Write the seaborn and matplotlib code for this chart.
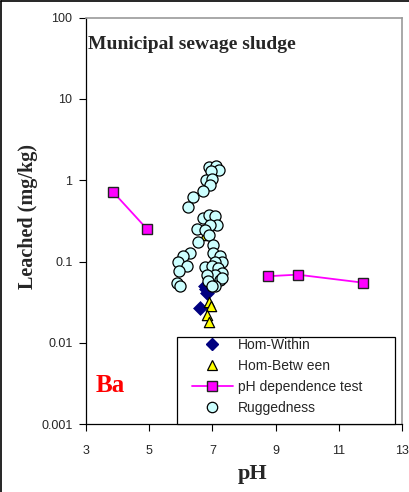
import matplotlib
matplotlib.use("Agg")
import matplotlib.pyplot as plt
import matplotlib.patches as patches
from matplotlib.lines import Line2D
import seaborn as sns
import pandas as pd

# (pH, leached mg/kg)
within_ph = [6.76, 6.84, 6.80, 6.60]
within_val = [0.050, 0.041, 0.046, 0.027]

between_ph = [6.76, 6.90, 6.95, 6.84, 6.89]
between_val = [0.21, 0.032, 0.028, 0.022, 0.018]

# the pH dependence test is drawn as two separate runs (acid side / alkaline side)
phdep_ph = [3.86, 4.91, 8.76, 9.70, 11.77]
phdep_val = [0.71, 0.255, 0.066, 0.069, 0.055]
phdep_run = [1, 1, 2, 2, 2]

rugged_ph = [6.90, 7.11, 7.22, 6.95, 6.80, 6.98, 6.92, 6.71, 6.39, 6.23,
             6.69, 6.90, 7.08, 7.13, 6.92, 6.50, 6.76, 6.90, 6.55, 7.01,
             7.03, 7.24, 7.29, 7.08, 6.29, 6.08, 5.92, 6.18, 5.95, 6.76,
             6.98, 7.19, 7.29, 7.08, 6.82, 6.87, 7.24, 7.29, 5.87, 5.97,
             7.08, 6.98]
rugged_val = [1.46, 1.49, 1.33, 1.31, 1.00, 1.03, 0.87, 0.74, 0.63, 0.47,
              0.34, 0.37, 0.36, 0.28, 0.28, 0.25, 0.245, 0.21, 0.176, 0.16,
              0.127, 0.116, 0.100, 0.100, 0.127, 0.116, 0.100, 0.087, 0.076, 0.086,
              0.087, 0.083, 0.072, 0.069, 0.069, 0.057, 0.060, 0.063, 0.055, 0.050,
              0.050, 0.050]

yticks = [0.001, 0.01, 0.1, 1, 10, 100]
ytick_labels = ["0.001", "0.01", "0.1", "1", "10", "100"]
xticks = [3, 5, 7, 9, 11, 13]
legend_labels = ["Hom-Within", "Hom-Betw een", "pH dependence test", "Ruggedness"]

sns.set_style("white")
plt.rcParams["font.family"] = ["Liberation Sans", "DejaVu Sans"]

fig = plt.figure(figsize=(4.09, 4.92), dpi=100)
ax = fig.add_axes([0.211, 0.138, 0.771, 0.826])

within = pd.DataFrame({"pH": within_ph, "val": within_val})
between = pd.DataFrame({"pH": between_ph, "val": between_val})
phdep = pd.DataFrame({"pH": phdep_ph, "val": phdep_val, "run": phdep_run})
rugged = pd.DataFrame({"pH": rugged_ph, "val": rugged_val})

navy, yellow, magenta, cyan = "#000080", "#FFFF00", "#FF00FF", "#CCFFFF"

sns.scatterplot(data=within, x="pH", y="val", marker="D", s=50, color=navy,
                edgecolor=navy, linewidth=0.5, ax=ax, zorder=3)
sns.scatterplot(data=between, x="pH", y="val", marker="^", s=55, color=yellow,
                edgecolor="black", linewidth=0.9, ax=ax, zorder=4)
sns.lineplot(data=phdep, x="pH", y="val", units="run", estimator=None, color=magenta,
             linewidth=1.3, marker="s", markersize=7.5, markerfacecolor=magenta,
             markeredgecolor="#222222", markeredgewidth=1.0, ax=ax, zorder=5,
             sort=False, legend=False)
sns.scatterplot(data=rugged, x="pH", y="val", marker="o", s=64, color=cyan,
                edgecolor="black", linewidth=0.9, ax=ax, zorder=6)

ax.set_yscale("log")
ax.set_ylim(0.001, 100)
ax.set_xlim(3, 13)
ax.set_yticks(yticks)
ax.set_yticklabels(ytick_labels)
ax.set_xticks(xticks)
ax.minorticks_off()
ax.tick_params(axis="both", which="major", direction="out", length=5, width=0.8,
               labelsize=9, color="black", left=True, bottom=True)
ax.tick_params(axis="y", pad=5)
ax.tick_params(axis="x", pad=10)

for side in ["left", "bottom"]:
    ax.spines[side].set_color("black")
    ax.spines[side].set_linewidth(0.9)
for side in ["top", "right"]:
    ax.spines[side].set_color("#999999")
    ax.spines[side].set_linewidth(1.2)

serif = ["Liberation Serif", "DejaVu Serif"]
ax.set_xlabel("pH", fontsize=16, fontweight="bold", family=serif)
ax.set_ylabel("Leached (mg/kg)", fontsize=14.5, fontweight="bold", family=serif)
ax.xaxis.set_label_coords(0.527, -0.098)
ax.yaxis.set_label_coords(-0.153, 0.51)

ax.text(0.005, 0.935, "Municipal sewage sludge", transform=ax.transAxes,
        fontsize=14, fontweight="bold", family=serif, va="center", ha="left")
ax.text(0.03, 0.095, "Ba", transform=ax.transAxes, color="#FF0000",
        fontsize=18, fontweight="bold", family=serif, va="center", ha="left")

# legend box drawn separately so it can match the original's size
ax.add_patch(patches.Rectangle((0.2876, 0.0), 0.6914, 0.214, transform=ax.transAxes,
                               facecolor="white", edgecolor="black", linewidth=0.9,
                               zorder=9, clip_on=False))
handles = [
    Line2D([], [], linestyle="none", marker="D", markersize=6.5, color=navy),
    Line2D([], [], linestyle="none", marker="^", markersize=7.5, markerfacecolor=yellow,
           markeredgecolor="black", markeredgewidth=0.9),
    Line2D([], [], color=magenta, linewidth=1.3, marker="s", markersize=7.5,
           markerfacecolor=magenta, markeredgecolor="#222222", markeredgewidth=1.0),
    Line2D([], [], linestyle="none", marker="o", markersize=7.5, markerfacecolor=cyan,
           markeredgecolor="black", markeredgewidth=0.9),
]
leg = ax.legend(handles, legend_labels, loc="upper left", bbox_to_anchor=(0.334, 0.212),
                fontsize=10, frameon=False, borderaxespad=0, borderpad=0,
                handlelength=3.0, labelspacing=0.5, handletextpad=0.35)
leg.set_zorder(10)

# outline of the chart area (left and top edges show in the original)
fig.add_artist(Line2D([0.002, 0.002], [0.0, 0.998], transform=fig.transFigure,
                      color="black", linewidth=1.2))
fig.add_artist(Line2D([0.002, 1.0], [0.998, 0.998], transform=fig.transFigure,
                      color="black", linewidth=1.2))

fig.savefig("out.png", dpi=100)
